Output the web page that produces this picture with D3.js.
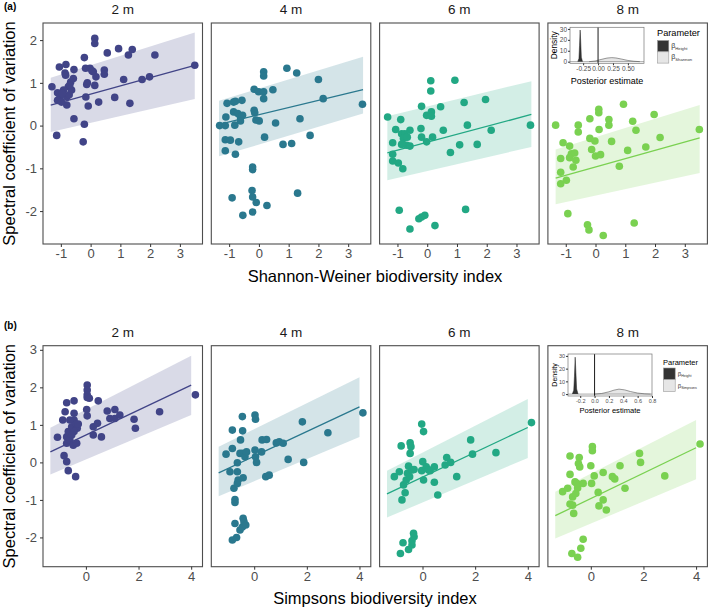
<!DOCTYPE html>
<html>
<head>
<meta charset="utf-8">
<script src="https://cdn.jsdelivr.net/npm/d3@7"></script>
<style>
  body { margin: 0; background: #fff; }
  text { font-family: "Liberation Sans", Arial, sans-serif; }
</style>
</head>
<body>
<script>
// ---- data ----
const depths = ["2 m", "4 m", "6 m", "8 m"];
const depthColors = ["#414487", "#2a788e", "#22a884", "#7ad151"];

const shannonTicks = [-1, 0, 1, 2, 3];
const simpsonTicks = [0, 2, 4];
const cvTicksA = [-2, -1, 0, 1, 2];
const cvTicksB = [-2, -1, 0, 1, 2, 3];

// (a) Shannon-Weiner index vs spectral CV, [x, y]
const shannon2m = [[-1.30,0.91],[-1.05,1.37],[-0.83,1.43],[-0.86,1.23],[-0.84,1.18],[-0.56,1.31],[-0.58,1.10],[-0.67,1.02],[-0.75,0.91],[-0.64,0.83],[-0.91,0.83],[-1.11,0.77],[-1.03,0.67],[-1.11,0.59],[-0.80,0.67],[-0.80,0.48],[-1.14,-0.23],[-0.56,0.16],[-0.21,1.59],[-0.17,1.34],[-0.02,1.34],[-0.11,1.00],[-0.13,0.96],[-0.16,0.67],[-0.08,0.46],[-0.21,0.03],[-0.25,-0.38],[0.14,2.04],[0.14,1.92],[0.09,1.26],[0.18,1.14],[0.14,0.94],[0.27,0.55],[0.46,1.30],[0.46,1.20],[0.56,1.70],[0.81,0.66],[0.94,1.80],[1.11,1.08],[1.27,1.65],[1.40,1.78],[1.32,0.52],[1.73,1.08],[1.98,1.14],[2.16,1.65],[3.50,1.41],[-0.70,0.95],[-0.72,0.72],[-0.98,0.55],[-0.95,0.75],[0.05,1.28]];
const shannon4m = [[-1.32,0.00],[-1.11,0.20],[-1.07,0.52],[-1.13,0.00],[-1.13,-0.33],[-1.13,-0.59],[-0.96,-0.34],[-0.85,0.55],[-0.79,0.57],[-0.85,0.32],[-0.71,0.28],[-0.81,0.01],[-0.79,-0.67],[-0.68,-0.38],[-0.62,0.20],[-0.57,0.59],[-0.55,0.24],[-0.62,0.11],[-0.90,-1.69],[-0.54,-2.10],[-0.21,-1.03],[-0.21,-0.97],[-0.23,-1.52],[-0.21,-1.67],[-0.09,-1.80],[-0.21,-2.02],[0.27,-1.87],[-0.16,0.85],[-0.16,0.36],[-0.14,0.30],[-0.10,0.13],[0.01,0.11],[-0.01,0.79],[0.16,0.79],[0.16,0.63],[0.16,1.26],[0.16,1.16],[0.19,-0.27],[0.47,0.84],[0.56,0.06],[0.81,-0.44],[0.94,1.34],[1.10,-0.42],[1.27,1.23],[1.30,-1.58],[1.38,0.16],[1.72,-0.23],[2.00,1.08],[2.16,0.63],[3.48,0.50]];
const shannon6m = [[-1.33,0.20],[-1.06,-0.09],[-0.89,0.14],[-1.16,-0.40],[-1.16,-0.67],[-1.16,-0.83],[-0.97,-0.875],[-0.82,-1.01],[-0.86,-0.19],[-0.75,-0.19],[-0.80,-0.30],[-0.67,-0.27],[-0.58,-0.11],[-0.69,-0.46],[-0.86,-0.44],[-0.58,-0.48],[-0.19,0.45],[-0.21,-0.07],[-0.19,-0.27],[-0.02,0.24],[-0.02,-0.38],[0.12,1.05],[0.12,0.81],[0.14,0.32],[0.14,0.22],[0.18,-0.27],[0.45,0.44],[0.54,-0.11],[0.78,-0.63],[0.93,1.06],[1.09,-0.45],[1.24,0.54],[1.35,0.01],[1.68,-0.44],[1.96,0.61],[2.15,-0.11],[3.47,0.01],[-0.94,-1.98],[-0.58,-2.42],[-0.28,-2.18],[-0.19,-2.14],[-0.08,-2.10],[0.26,-2.34],[1.29,-1.96]];
const shannon8m = [[-1.34,0.01],[-1.09,-0.40],[-1.17,-0.77],[-1.17,-1.09],[-1.17,-1.36],[-0.98,-1.28],[-0.87,-0.48],[-0.81,-0.66],[-0.87,-0.75],[-0.70,-0.64],[-0.66,-0.81],[-0.75,-0.97],[-0.58,0.01],[-0.58,-0.15],[-0.93,-2.06],[-0.27,-2.32],[-0.22,-2.44],[0.26,-2.57],[-0.19,0.16],[-0.19,-0.30],[-0.13,-0.56],[-0.02,-0.36],[0.00,-0.71],[0.11,0.38],[0.11,0.30],[0.12,-0.09],[0.17,-0.68],[0.45,0.14],[0.45,0.01],[0.54,-0.37],[0.80,-0.95],[0.94,0.50],[1.08,-0.58],[1.25,0.10],[1.30,-2.28],[1.36,-0.11],[1.69,-0.50],[1.97,0.26],[2.17,-0.28],[3.49,-0.09]];

// (b) Simpsons index vs spectral CV, [x, y]
const simpson2m = [[-1.08,0.67],[-0.88,1.13],[-0.79,1.35],[-0.73,1.59],[-0.45,1.64],[-0.83,0.18],[-0.73,0.02],[-0.67,-0.22],[-0.39,-0.38],[-0.73,0.68],[-0.73,0.51],[-0.67,0.82],[-0.61,0.60],[-0.54,0.95],[-0.45,1.31],[-0.45,1.13],[-0.48,0.46],[-0.35,0.51],[-0.38,1.02],[-0.33,0.91],[-0.29,1.02],[-0.45,0.82],[-0.61,1.13],[-0.54,0.73],[0.05,2.06],[0.05,1.93],[0.05,1.80],[0.05,1.73],[0.13,1.71],[0.03,1.41],[0.05,1.24],[0.28,0.73],[0.28,0.95],[0.44,1.04],[0.47,1.64],[0.59,0.68],[0.81,1.37],[0.91,1.17],[1.10,1.41],[1.10,1.17],[1.29,1.26],[1.83,1.15],[1.88,0.91],[2.80,1.35],[4.16,1.80]];
const simpson4m = [[-1.07,0.22],[-0.83,0.86],[-0.83,0.37],[-0.92,-0.25],[-0.77,-0.69],[-0.73,-0.99],[-0.73,-1.07],[-0.73,-1.63],[-0.83,-2.07],[-0.67,-2.00],[-0.54,-1.80],[-0.45,-1.72],[-0.42,-1.49],[-0.39,-1.58],[-0.32,-1.67],[-0.64,-0.01],[-0.64,-0.25],[-0.61,-0.47],[-0.64,-0.56],[-0.54,0.24],[-0.52,0.60],[-0.45,1.22],[-0.44,0.84],[-0.44,0.24],[-0.42,-0.41],[-0.35,0.15],[-0.29,0.28],[0.03,1.26],[0.05,1.15],[0.03,0.33],[0.05,0.15],[0.09,0.00],[0.28,0.28],[0.30,0.60],[0.47,0.61],[0.44,-0.38],[0.57,-0.34],[0.84,0.52],[0.95,0.55],[1.10,0.51],[1.29,0.08],[1.83,1.08],[1.88,0.00],[2.80,0.79],[4.13,1.32]];
const simpson6m = [[-1.07,-0.38],[-0.88,-0.25],[-0.81,0.44],[-0.78,-1.00],[-0.72,-0.60],[-0.66,-0.81],[-0.62,-0.47],[-0.57,-0.29],[-0.53,-0.10],[-0.47,0.52],[-0.44,0.42],[-0.47,0.24],[-0.49,-0.38],[-0.40,-0.20],[-0.32,-0.19],[-0.03,1.02],[0.04,0.82],[0.01,0.02],[-0.03,-0.22],[0.04,-0.47],[0.14,-0.12],[0.23,-0.20],[0.29,-0.22],[0.45,-0.12],[0.45,-0.53],[0.58,-0.87],[0.86,-0.07],[0.92,0.13],[1.07,0.00],[1.30,-0.38],[1.83,0.60],[1.90,0.22],[2.79,0.26],[4.14,1.06],[-0.84,-2.43],[-0.74,-2.14],[-0.53,-2.32],[-0.40,-2.09],[-0.32,-1.98],[-0.40,-2.20],[-0.34,-1.89]];
const simpson8m = [[-1.07,-0.78],[-0.88,-0.69],[-0.79,-0.32],[-0.79,0.17],[-0.69,-0.92],[-0.69,-1.14],[-0.65,-1.36],[-0.79,-1.11],[-0.60,-0.52],[-0.57,-0.83],[-0.50,-0.68],[-0.47,-0.03],[-0.44,0.13],[-0.42,-0.12],[-0.53,-0.56],[-0.29,-0.56],[-0.72,-2.43],[-0.50,-2.53],[-0.38,-2.29],[-0.29,-2.05],[0.00,-0.09],[0.06,0.42],[0.06,0.31],[0.03,-0.56],[0.13,-0.36],[0.28,-0.80],[0.31,-1.16],[0.47,-1.00],[0.47,-0.27],[0.59,-1.27],[0.82,-0.38],[0.91,-0.44],[1.11,-0.09],[1.30,-0.69],[1.85,0.24],[1.89,0.00],[2.81,-0.36],[4.15,0.49]];

// fitted lines and credible bands at the ends of the x range, per depth
const shannonFitX = [-1.34, 3.50];
const shannonFitMid  = [[0.48, 1.41], [0.03, 0.84], [-0.64, 0.26], [-1.23, -0.29]];
const shannonFitLow  = [[-0.15, 0.62], [-0.72, 0.28], [-1.28, -0.50], [-1.84, -1.11]];
const shannonFitHigh = [[1.12, 2.18], [0.58, 1.61], [0.22, 1.04], [-0.56, 0.48]];

const simpsonFitX = [-1.35, 4.00];
const simpsonFitMid  = [[0.28, 2.06], [-0.28, 1.48], [-0.84, 0.93], [-1.42, 0.39]];
const simpsonFitLow  = [[-0.32, 1.26], [-0.90, 0.68], [-1.47, 0.12], [-2.03, -0.45]];
const simpsonFitHigh = [[0.92, 2.84], [0.42, 2.27], [-0.22, 1.69], [-0.78, 1.13]];

// posterior densities for the insets
const postTicksA = [-0.25, 0, 0.25, 0.5];
const postTicksB = [-0.2, 0, 0.2, 0.4, 0.6, 0.8];
const densTicks = [0, 10, 20, 30];
const heightDensAX = [-0.34, -0.32, -0.31, -0.30, -0.29, -0.28, -0.26];
const heightDensAY = [0, 3, 15, 29, 18, 4, 0];
const shannonDensX = [-0.15, -0.05, 0.05, 0.15, 0.23, 0.30, 0.40, 0.50, 0.60, 0.70];
const shannonDensY = [0, 0.6, 2.0, 3.3, 3.7, 3.4, 2.3, 1.1, 0.4, 0];
const heightDensBX = [-0.31, -0.29, -0.28, -0.27, -0.26, -0.25, -0.23];
const heightDensBY = [0, 3, 14, 29, 17, 4, 0];
const simpsonDensX = [0.00, 0.10, 0.20, 0.27, 0.34, 0.42, 0.50, 0.60, 0.70, 0.78];
const simpsonDensY = [0, 0.5, 1.8, 3.1, 3.9, 3.3, 2.0, 0.8, 0.2, 0];

// ---- drawing ----
const width = 709, height = 610;
const svg = d3.select("body").append("svg")
  .attr("width", width)
  .attr("height", height);

const panelW = 159.5;
const panelStep = 168.3;
const firstLeft = 43;

function drawRow(cfg) {
  cfg.points.forEach((pts, i) => {
    const left = firstLeft + i * panelStep;
    const g = svg.append("g").attr("transform", `translate(${left},0)`);
    const x = d3.scaleLinear().domain(cfg.xDomain).range([0, panelW]);
    const y = d3.scaleLinear().domain(cfg.yDomain).range([cfg.bottom, cfg.top]);

    // credible band
    const band = cfg.fitX.map((xv, k) => ({ x: xv, lo: cfg.low[i][k], hi: cfg.high[i][k], mid: cfg.mid[i][k] }));
    g.append("path")
      .datum(band)
      .attr("fill", depthColors[i])
      .attr("fill-opacity", 0.2)
      .attr("d", d3.area().x(d => x(d.x)).y0(d => y(d.lo)).y1(d => y(d.hi)));
    g.append("path")
      .datum(band)
      .attr("fill", "none")
      .attr("stroke", depthColors[i])
      .attr("stroke-width", 1.3)
      .attr("d", d3.line().x(d => x(d.x)).y(d => y(d.mid)));

    g.selectAll("circle")
      .data(pts)
      .enter()
      .append("circle")
      .attr("cx", d => x(d[0]))
      .attr("cy", d => y(d[1]))
      .attr("r", 3.8)
      .attr("fill", depthColors[i]);

    g.append("rect")
      .attr("x", 0).attr("y", cfg.top)
      .attr("width", panelW).attr("height", cfg.bottom - cfg.top)
      .attr("fill", "none")
      .attr("stroke", "#4d4d4d")
      .attr("stroke-width", 1.1);

    const xa = g.append("g")
      .attr("transform", `translate(0,${cfg.bottom})`)
      .call(d3.axisBottom(x).tickValues(cfg.xTicks).tickSize(3).tickPadding(2)
        .tickFormat(d => String(d)));
    styleAxis(xa, 13);

    if (i === 0) {
      const ya = g.append("g")
        .call(d3.axisLeft(y).tickValues(cfg.yTicks).tickSize(3).tickPadding(3)
          .tickFormat(d => String(d)));
      styleAxis(ya, 13);
    }

    g.append("text")
      .attr("x", panelW / 2)
      .attr("y", cfg.top - 9)
      .attr("text-anchor", "middle")
      .attr("font-size", 13.5)
      .attr("fill", "#1a1a1a")
      .text(depths[i]);
  });

  // axis titles
  svg.append("text")
    .attr("x", 375)
    .attr("y", cfg.xTitleY)
    .attr("text-anchor", "middle")
    .attr("font-size", 16.5)
    .text(cfg.xTitle);
  svg.append("text")
    .attr("transform", `translate(15,${(cfg.top + cfg.bottom) / 2}) rotate(-90)`)
    .attr("text-anchor", "middle")
    .attr("font-size", 16.5)
    .text("Spectral coefficient of variation");
  svg.append("text")
    .attr("x", 4)
    .attr("y", cfg.tagY)
    .attr("font-size", 10)
    .attr("font-weight", "bold")
    .text(cfg.tag);
}

function styleAxis(sel, size) {
  sel.select(".domain").remove();
  sel.selectAll(".tick line").attr("stroke", "#333");
  sel.selectAll(".tick text")
    .attr("fill", "#4d4d4d")
    .attr("font-size", size)
    .attr("font-family", "Liberation Sans, Arial, sans-serif");
}

function drawInset(cfg) {
  const g = svg.append("g");
  const x = d3.scaleLinear().domain(cfg.xDomain).range([cfg.left, cfg.right]);
  const y = d3.scaleLinear().domain([-1.5, 31.5]).range([cfg.bottom, cfg.top]);

  g.append("rect")
    .attr("x", cfg.left).attr("y", cfg.top)
    .attr("width", cfg.right - cfg.left).attr("height", cfg.bottom - cfg.top)
    .attr("fill", "#fff");

  const area = d3.area().x(d => x(d[0])).y0(y(0)).y1(d => y(d[1]));
  const line = d3.line().x(d => x(d[0])).y(d => y(d[1]));
  const light = d3.zip(cfg.paramX, cfg.paramY);
  const dark = d3.zip(cfg.heightX, cfg.heightY);
  g.append("path").datum(light).attr("fill", "#e6e6e6").attr("d", area);
  g.append("path").datum(light).attr("fill", "none").attr("stroke", "#555").attr("stroke-width", 0.6).attr("d", line);
  g.append("path").datum(dark).attr("fill", "#333").attr("d", area);
  g.append("path").datum(dark).attr("fill", "none").attr("stroke", "#222").attr("stroke-width", 0.5).attr("d", line);
  g.append("line")
    .attr("x1", cfg.left).attr("x2", cfg.right)
    .attr("y1", y(0)).attr("y2", y(0))
    .attr("stroke", "#555").attr("stroke-width", 0.5);
  g.append("line")
    .attr("x1", x(0)).attr("x2", x(0))
    .attr("y1", cfg.top).attr("y2", cfg.bottom)
    .attr("stroke", "#000").attr("stroke-width", 0.9);

  g.append("rect")
    .attr("x", cfg.left).attr("y", cfg.top)
    .attr("width", cfg.right - cfg.left).attr("height", cfg.bottom - cfg.top)
    .attr("fill", "none").attr("stroke", "#777").attr("stroke-width", 0.7);

  const xa = g.append("g")
    .attr("transform", `translate(0,${cfg.bottom})`)
    .call(d3.axisBottom(x).tickValues(cfg.xTicks).tickSize(2).tickPadding(1)
      .tickFormat(d => d.toFixed(cfg.decimals)));
  styleAxis(xa, cfg.tickSize);
  const ya = g.append("g")
    .attr("transform", `translate(${cfg.left},0)`)
    .call(d3.axisLeft(y).tickValues(densTicks).tickSize(2).tickPadding(1)
      .tickFormat(d => String(d)));
  styleAxis(ya, cfg.tickSize);

  g.append("text")
    .attr("x", (cfg.left + cfg.right) / 2)
    .attr("y", cfg.bottom + cfg.titleGap)
    .attr("text-anchor", "middle")
    .attr("font-size", cfg.titleSize)
    .attr("fill", "#000")
    .text("Posterior estimate");
  g.append("text")
    .attr("transform", `translate(${cfg.left - cfg.densGap},${(cfg.top + cfg.bottom) / 2}) rotate(-90)`)
    .attr("text-anchor", "middle")
    .attr("font-size", cfg.densSize)
    .attr("fill", "#000")
    .text("Density");

  // legend
  const lg = g.append("g").attr("transform", `translate(${cfg.legX},${cfg.legY})`);
  lg.append("text").attr("x", 0).attr("y", 0)
    .attr("font-size", cfg.legTitleSize).attr("fill", "#000").text("Parameter");
  const keys = [{ fill: "#333", lab: "Height" }, { fill: "#e6e6e6", lab: cfg.paramName }];
  keys.forEach((k, j) => {
    lg.append("rect")
      .attr("x", 0.5).attr("y", cfg.keyTop + j * cfg.keySize)
      .attr("width", cfg.keySize).attr("height", cfg.keySize)
      .attr("fill", k.fill).attr("stroke", "#999").attr("stroke-width", 0.6);
    const t = lg.append("text")
      .attr("x", cfg.keySize + 3)
      .attr("y", cfg.keyTop + j * cfg.keySize + cfg.keySize / 2 + 2)
      .attr("font-size", cfg.betaSize)
      .attr("fill", "#333");
    t.append("tspan").text("β");
    t.append("tspan").attr("font-size", cfg.betaSize * 0.6).attr("dy", 1.5).text(k.lab);
  });
}

drawRow({
  top: 23, bottom: 244,
  xDomain: [-1.6, 3.76], yDomain: [-2.77, 2.4],
  xTicks: shannonTicks, yTicks: cvTicksA,
  points: [shannon2m, shannon4m, shannon6m, shannon8m],
  fitX: shannonFitX, mid: shannonFitMid, low: shannonFitLow, high: shannonFitHigh,
  xTitle: "Shannon-Weiner biodiversity index", xTitleY: 282,
  tag: "(a)", tagY: 10
});

drawRow({
  top: 345.7, bottom: 566.7,
  xDomain: [-1.63, 4.43], yDomain: [-2.78, 3.11],
  xTicks: simpsonTicks, yTicks: cvTicksB,
  points: [simpson2m, simpson4m, simpson6m, simpson8m],
  fitX: simpsonFitX, mid: simpsonFitMid, low: simpsonFitLow, high: simpsonFitHigh,
  xTitle: "Simpsons biodiversity index", xTitleY: 604,
  tag: "(b)", tagY: 329
});

drawInset({
  left: 570, right: 644, top: 27.3, bottom: 63.3,
  xDomain: [-0.47, 0.77], xTicks: postTicksA, decimals: 2,
  heightX: heightDensAX, heightY: heightDensAY,
  paramX: shannonDensX, paramY: shannonDensY, paramName: "Shannon",
  tickSize: 6.5, titleSize: 9, titleGap: 21, densSize: 8.4, densGap: 13,
  legX: 657, legY: 36, legTitleSize: 9.2, keyTop: 4.5, keySize: 11.3, betaSize: 7
});

drawInset({
  left: 568, right: 652, top: 354, bottom: 396,
  xDomain: [-0.37, 0.80], xTicks: postTicksB, decimals: 1,
  heightX: heightDensBX, heightY: heightDensBY,
  paramX: simpsonDensX, paramY: simpsonDensY, paramName: "Simpsons",
  tickSize: 5.5, titleSize: 7.6, titleGap: 17, densSize: 7, densGap: 11,
  legX: 663, legY: 365, legTitleSize: 7.5, keyTop: 3, keySize: 11.7, betaSize: 6
});
</script>
</body>
</html>
